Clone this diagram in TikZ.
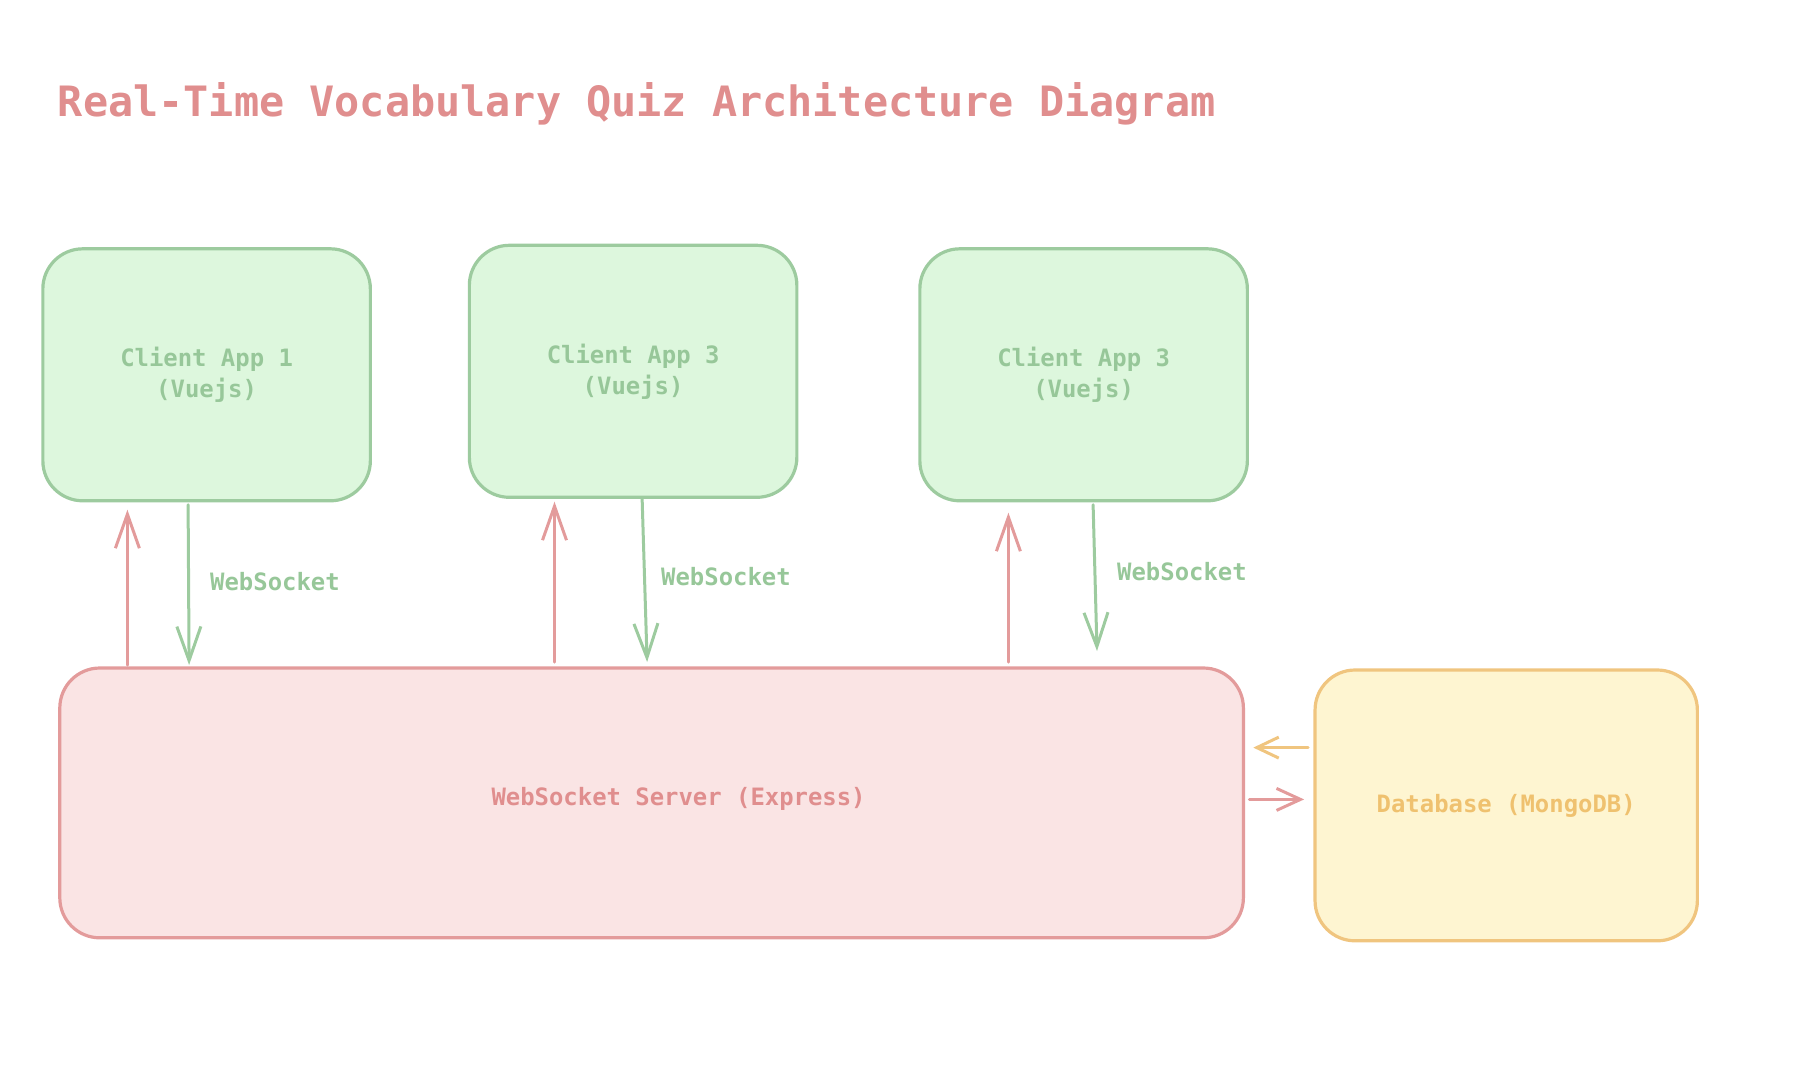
\documentclass[tikz,border=0pt]{standalone}
\usepackage{fontspec}
\setmonofont{DejaVu Sans Mono}
\usetikzlibrary{arrows.meta}
\definecolor{gstroke}{HTML}{9DCB9F}
\definecolor{gfill}{HTML}{DDF7DD}
\definecolor{gtext}{HTML}{97C799}
\definecolor{rstroke}{HTML}{E39B9B}
\definecolor{rfill}{HTML}{FAE4E4}
\definecolor{rtext}{HTML}{E08E8E}
\definecolor{ostroke}{HTML}{F0C57F}
\definecolor{ofill}{HTML}{FEF5D1}
\definecolor{otext}{HTML}{EFC16F}
\tikzset{
  box/.style={rectangle, rounded corners=40pt, line width=3.2pt, align=center,
    inner sep=0pt, font=\ttfamily\bfseries\fontsize{23.9}{31}\selectfont},
  client/.style={box, draw=gstroke, fill=gfill, text=gtext,
    minimum width=327.5pt, minimum height=252pt},
  serverbox/.style={box, draw=rstroke, fill=rfill, text=rtext,
    minimum width=1183.6pt, minimum height=269.8pt},
  dbbox/.style={box, draw=ostroke, fill=ofill, text=otext,
    minimum width=382.3pt, minimum height=270.8pt},
  arr/.style={line width=3pt, line cap=round,
    -{Straight Barb[length=34pt,width=24pt,line width=3pt]}},
  redarr/.style={arr, draw=rstroke},
  greenarr/.style={arr, draw=gstroke},
  orangearr/.style={line width=3pt, line cap=round, draw=ostroke,
    -{Straight Barb[length=22pt,width=21pt,line width=3pt]}},
  redside/.style={line width=3pt, line cap=round, draw=rstroke,
    -{Straight Barb[length=24pt,width=22pt,line width=3pt]}},
  lbl/.style={font=\ttfamily\bfseries\fontsize{23.9}{31}\selectfont, text=gtext, anchor=west, inner sep=0pt},
}
\begin{document}
\begin{tikzpicture}[x=1pt,y=-1pt]
\useasboundingbox (0,0) rectangle (1796,1066);
\node[font=\ttfamily\bfseries\fontsize{41.8}{50}\selectfont, text=rtext, anchor=base west, inner sep=0pt]
  (title) at (57.7,116.5) {Real-Time Vocabulary Quiz Architecture Diagram};

\node[client] (c1) at (206.6,374.8) {Client App 1\\(Vuejs)};
\node[client] (c2) at (633.1,371.3) {Client App 3\\(Vuejs)};
\node[client] (c3) at (1083.6,374.8) {Client App 3\\(Vuejs)};
\node[serverbox] (server) at (651.6,802.9) {};
\node[font=\ttfamily\bfseries\fontsize{23.9}{31}\selectfont, text=rtext, inner sep=0pt]
  (servertext) at ([xshift=27pt,yshift=4pt]server.center) {WebSocket Server (Express)};
\node[dbbox] (db) at (1506.2,805.4) {Database (MongoDB)};

\coordinate (u1s) at (127.4,665); \coordinate (u1e) at (127.4,509.7);
\coordinate (d1s) at (188.1,504.7); \coordinate (d1e) at (189.1,665);
\coordinate (u2s) at (554.5,662); \coordinate (u2e) at (554.5,501.7);
\coordinate (d2s) at (642.1,497.8); \coordinate (d2e) at (647.1,662);
\coordinate (u3s) at (1008.4,662); \coordinate (u3e) at (1008.4,512.7);
\coordinate (d3s) at (1093.1,504.7); \coordinate (d3e) at (1097,651);
\coordinate (os) at (1308.1,747.6); \coordinate (oe) at (1253.3,747.6);
\coordinate (rs) at (1249.4,799.4); \coordinate (re) at (1304.1,799.4);

\draw[redarr] (u1s) -- (u1e);
\draw[greenarr] (d1s) -- (d1e);
\draw[redarr] (u2s) -- (u2e);
\draw[greenarr] (d2s) -- (d2e);
\draw[redarr] (u3s) -- (u3e);
\draw[greenarr] (d3s) -- (d3e);
\draw[orangearr] (os) -- (oe);
\draw[redside] (rs) -- (re);

\node[lbl] (l1) at (210,581.4) {WebSocket};
\node[lbl] (l2) at (661,576.4) {WebSocket};
\node[lbl] (l3) at (1117,571.4) {WebSocket};
\end{tikzpicture}
\end{document}
